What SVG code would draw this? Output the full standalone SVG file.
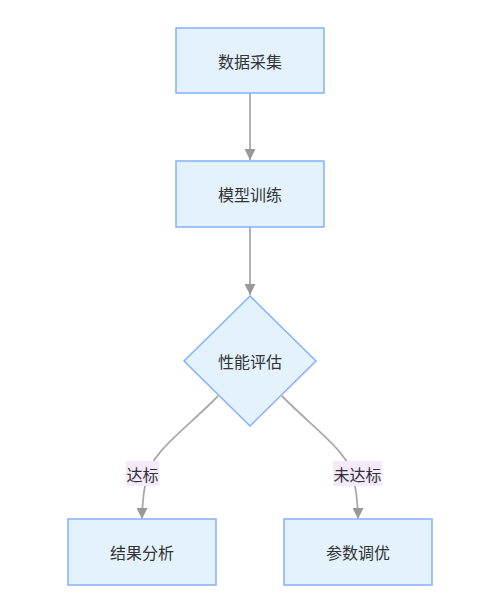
<svg xmlns="http://www.w3.org/2000/svg" width="504" height="612" viewBox="0 0 504 612">
<style>
.node rect,.node polygon{fill:#e3f2fd;stroke:#82b1ff;stroke-width:1.5}
.lbl{font-family:"Noto Sans CJK SC","Noto Sans",sans-serif;font-size:16px;fill:#333;text-anchor:middle;dominant-baseline:central}
.edge{fill:none;stroke:#aaaaaa;stroke-width:1.8}
.elbg{fill:#f4eafc}
</style>
<defs>
<marker id="arr" viewBox="0 0 10 10" refX="10" refY="5" markerWidth="11" markerHeight="11" markerUnits="userSpaceOnUse" orient="auto">
<path d="M0,0 L10,5 L0,10 z" fill="#999999"/>
</marker>
</defs>
<rect width="504" height="612" fill="#ffffff"/>
<g id="connectors">
<path class="edge" d="M250,93 L250,160" marker-end="url(#arr)"/>
<path class="edge" d="M250,227 L250,295" marker-end="url(#arr)"/>
<path class="edge" d="M218,396 C185,430 150,452 146,480 C143,495 142,505 142,519" marker-end="url(#arr)"/>
<path class="edge" d="M282,396 C315,430 350,452 354,480 C357,495 358,505 358,519" marker-end="url(#arr)"/>
<rect class="elbg" x="126" y="461" width="33" height="25"/>
<text class="lbl" x="142.5" y="473.5">达标</text>
<rect class="elbg" x="333" y="461" width="49" height="25"/>
<text class="lbl" x="357.5" y="473.5">未达标</text>
</g>
<g id="n1" class="node"><rect x="176" y="28" width="148" height="65"/><text class="lbl" x="250" y="60.5">数据采集</text></g>
<g id="n2" class="node"><rect x="176" y="161" width="148" height="66"/><text class="lbl" x="250" y="194">模型训练</text></g>
<g id="n3" class="node"><polygon points="250,296 316,361 250,426 184,361"/><text class="lbl" x="250" y="361">性能评估</text></g>
<g id="n4" class="node"><rect x="68" y="519" width="148" height="66"/><text class="lbl" x="142" y="552">结果分析</text></g>
<g id="n5" class="node"><rect x="284" y="519" width="148" height="66"/><text class="lbl" x="358" y="552">参数调优</text></g>
</svg>
